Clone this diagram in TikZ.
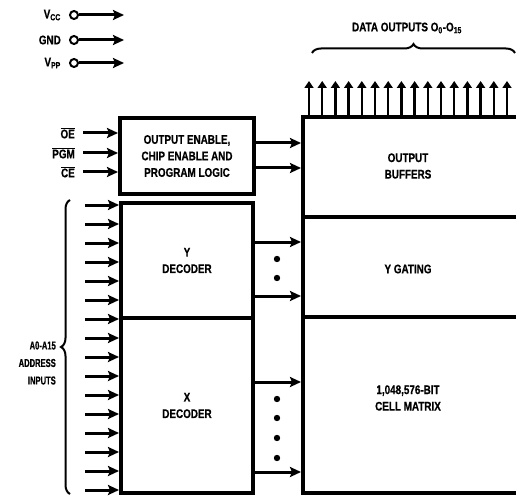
\documentclass[tikz,border=0pt]{standalone}
\usepackage{fontspec}
\setmainfont{Liberation Sans}[FakeStretch=0.79,BoldFeatures={FakeBold=0.6}]
\newfontfamily\addrfont{Liberation Sans}[FakeStretch=0.66,BoldFeatures={FakeBold=0.6}]
\usepackage{tikz}
\usetikzlibrary{arrows.meta,decorations.pathreplacing,positioning}

\tikzset{
  lbl/.style={font=\bfseries\fontsize{12.5}{16.5}\selectfont,align=center,inner sep=0pt},
  pin/.style={lbl,anchor=east},
  box/.style={draw,line width=4pt,inner sep=0pt,lbl},
  arr/.style={line width=3pt,-{Stealth[length=11pt,width=10pt,inset=2pt]}},
  uparr/.style={line width=2.4pt,-{Triangle[length=7pt,width=9pt]}},
  brc/.style={decorate,decoration={brace,amplitude=9pt},line width=2pt},
}

\begin{document}
\begin{tikzpicture}[x=1pt,y=-1pt]
\clip (0,0) rectangle (516,497);

% blocks
\node[box,minimum width=134pt,minimum height=76pt] (logic) at (187,156)
  {OUTPUT ENABLE,\\CHIP ENABLE AND\\PROGRAM LOGIC};
\node[box,minimum width=132pt,minimum height=115pt] (ydec) at (187,260.5) {Y\\DECODER};
\node[box,minimum width=132pt,minimum height=175pt] (xdec) at (187,405.5) {X\\DECODER};
\node[box,minimum width=237pt,minimum height=100pt] (buf) at (421.5,167) {};
\node[box,minimum width=237pt,minimum height=100pt] (ygate) at (421.5,267) {};
\node[box,minimum width=237pt,minimum height=176pt] (cell) at (421.5,405) {};
\node[lbl] (buftxt) at (408,166) {OUTPUT\\BUFFERS};
\node[lbl] (ygtxt) at (408,269) {Y GATING};
\node[lbl] (celltxt) at (408,398) {1,048,576-BIT\\CELL MATRIX};

% supply pins
\foreach \n/\t/\y in {vcc/{V\textsubscript{CC}}/15, gnd/GND/40, vpp/{V\textsubscript{PP}}/63}{
  \node[pin] (\n) at (61,\y) {\t};
  \node[circle,draw,line width=2pt,minimum size=8pt,inner sep=0pt] (\n c) at (74,\y) {};
  \coordinate (\n e) at (124,\y);
  \draw[arr] (\n c) -- (\n e);
}

% control inputs
\foreach \n/\t/\y in {oe/OE/133, pgm/PGM/153, ce/CE/172}{
  \node[pin] (\n) at (75,\y) {$\overline{\hbox{\t}}$};
  \draw[arr] ([xshift=8pt]\n.east) -- (\n.east -| logic.west);
}
\path (logic.east) ++(0,-13) coordinate (lo1) (logic.east) ++(0,12) coordinate (lo2);
\draw[arr] (lo1) -- (lo1 -| buf.west);
\draw[arr] (lo2) -- (lo2 -| buf.west);

% address inputs
\foreach \i in {0,...,15}{
  \pgfmathsetmacro\y{205+19*\i}
  \coordinate (a\i) at (85,\y);
  \draw[arr] (a\i) -- (a\i -| ydec.west);
}
\draw[brc] (70,494) -- (70,200);
\node[lbl,align=right,anchor=east,font=\addrfont\bfseries\fontsize{11.5}{17.5}\selectfont] (addr) at (56,363)
  {A0-A15\\ADDRESS\\INPUTS};

% decoder outputs
\foreach \y in {242,296}{
  \path (0,\y) coordinate (t);
  \draw[arr] (t -| ydec.east) -- (t -| ygate.west);
}
\foreach \y in {382,472}{
  \path (0,\y) coordinate (t);
  \draw[arr] (t -| xdec.east) -- (t -| cell.west);
}
\foreach \y in {259,278,399,418,438,458}
  \fill (277,\y) circle (3.2pt);

% data outputs
\foreach \i in {0,...,15}{
  \path (buf.north west) ++({8+13.2*\i},0) coordinate (d\i);
  \draw[uparr] (d\i) -- ++(0,-34);
}
\draw[brc] (312,53) -- (515,53);
\node[lbl] (dout) at (407,28) {DATA OUTPUTS O\textsubscript{0}-O\textsubscript{15}};
\end{tikzpicture}
\end{document}
